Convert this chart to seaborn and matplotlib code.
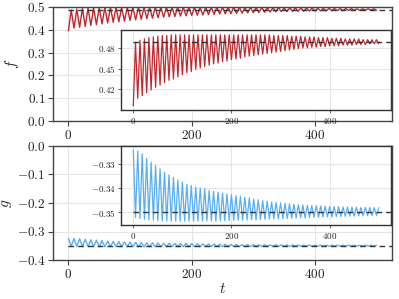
import numpy as np
import pandas as pd
import matplotlib
matplotlib.use("Agg")
import matplotlib.pyplot as plt
import seaborn as sns

# ---------------- data ----------------
t_end = 500
f_troughs = [0.396, 0.407, 0.411, 0.415, 0.419, 0.423, 0.426, 0.430, 0.433, 0.435,
             0.438, 0.441, 0.444, 0.446, 0.449, 0.451, 0.453, 0.455, 0.457, 0.458,
             0.460, 0.461, 0.463, 0.464, 0.465, 0.467, 0.468, 0.469, 0.470, 0.471,
             0.472, 0.473, 0.474, 0.475, 0.476, 0.477, 0.478, 0.479, 0.480, 0.480,
             0.481, 0.481, 0.482, 0.482, 0.483, 0.483, 0.483, 0.484, 0.484, 0.484,
             0.485, 0.485, 0.485, 0.486, 0.486, 0.486]
f_peaks = [0.487, 0.491, 0.493, 0.495, 0.496, 0.497, 0.498, 0.498, 0.499, 0.499,
           0.499, 0.499, 0.499, 0.499, 0.499, 0.499, 0.499, 0.499, 0.499, 0.499,
           0.499, 0.499, 0.499, 0.499, 0.499, 0.499, 0.499, 0.499, 0.499, 0.499,
           0.499, 0.498, 0.498, 0.498, 0.498, 0.497, 0.497, 0.497, 0.496, 0.496,
           0.496, 0.495, 0.495, 0.495, 0.494, 0.494, 0.494, 0.493, 0.493, 0.493,
           0.493, 0.492, 0.492, 0.492, 0.492]
g_peaks = [-0.3241, -0.3245, -0.3256, -0.3275, -0.3292, -0.3306, -0.3319, -0.3333,
           -0.3344, -0.3355, -0.3365, -0.3374, -0.3383, -0.3388, -0.3395, -0.3399,
           -0.3402, -0.3409, -0.3413, -0.3416, -0.3420, -0.3424, -0.3427, -0.3431,
           -0.3434, -0.3438, -0.3440, -0.3445, -0.3448, -0.3452, -0.3454, -0.3457,
           -0.3459, -0.3461, -0.3463, -0.3465, -0.3467, -0.3468, -0.3470, -0.3471,
           -0.3472, -0.3473, -0.3474, -0.3475, -0.3476, -0.3477, -0.3477, -0.3478,
           -0.3478, -0.3479, -0.3479, -0.3480, -0.3480, -0.3480, -0.3481, -0.3481]
g_troughs = [-0.3522, -0.3526, -0.3529, -0.3531, -0.3533, -0.3535, -0.3536, -0.3536,
             -0.3537, -0.3537, -0.3537, -0.3537, -0.3537, -0.3537, -0.3537, -0.3537,
             -0.3536, -0.3536, -0.3536, -0.3535, -0.3535, -0.3534, -0.3534, -0.3533,
             -0.3533, -0.3532, -0.3531, -0.3531, -0.3530, -0.3529, -0.3528, -0.3528,
             -0.3527, -0.3526, -0.3526, -0.3525, -0.3524, -0.3523, -0.3523, -0.3522,
             -0.3521, -0.3521, -0.3520, -0.3519, -0.3519, -0.3518, -0.3517, -0.3517,
             -0.3516, -0.3516, -0.3515, -0.3515, -0.3514, -0.3514, -0.3513]
f_star = 0.488
g_star = -0.350
main_xticks = [0, 200, 400]
f_main_yticks = [0.0, 0.1, 0.2, 0.3, 0.4, 0.5]
g_main_yticks = [0.0, -0.1, -0.2, -0.3, -0.4]
f_inset_yticks = [0.42, 0.45, 0.48]
g_inset_yticks = [-0.33, -0.34, -0.35]

# assemble series (alternating extrema)
n = len(f_troughs) + len(f_peaks)
t = np.linspace(0, t_end, n)
f = np.empty(n)
f[0::2] = f_troughs
f[1::2] = f_peaks
g = np.empty(n)
g[0::2] = g_peaks
g[1::2] = g_troughs
df = pd.DataFrame({"t": t, "f": f, "g": g})

# ---------------- style ----------------
sns.set_theme(style="whitegrid")
plt.rcParams.update({
    "font.family": "serif",
    "font.serif": ["cmr10"],
    "mathtext.fontset": "cm",
    "axes.formatter.use_mathtext": True,
    "axes.edgecolor": "#444444",
    "axes.linewidth": 1.0,
    "grid.color": "#e6e6e6",
    "grid.linewidth": 0.8,
    "xtick.bottom": True,
    "ytick.left": True,
    "xtick.color": "#444444",
    "ytick.color": "#444444",
    "xtick.labelcolor": "#222222",
    "ytick.labelcolor": "#222222",
})

RED = "#c1272d"
BLUE = "#5aaef0"
W, H = 399, 299
fig = plt.figure(figsize=(W / 100, H / 100), dpi=100)


def box(l, r, top, bot):
    return [l / W, 1 - bot / H, (r - l) / W, (bot - top) / H]


xlim = (-25, 525)

ax1 = fig.add_axes(box(53, 392, 7, 121))
ax2 = fig.add_axes(box(53, 392, 146, 260))
in1 = fig.add_axes(box(121, 391, 30, 110))
in2 = fig.add_axes(box(121, 391, 146, 225))

for ax, col, c, star, lw in [(ax1, "f", RED, f_star, 1.0), (in1, "f", RED, f_star, 0.9),
                             (ax2, "g", BLUE, g_star, 1.0), (in2, "g", BLUE, g_star, 0.9)]:
    sns.lineplot(data=df, x="t", y=col, ax=ax, color=c, lw=lw, estimator=None)
    ax.plot([0, xlim[1]], [star, star], ls=(0, (4, 3)), color="#333333", lw=1.0)
    ax.set_xlim(*xlim)
    ax.set_xticks(main_xticks)
    ax.set_xlabel("")
    ax.set_ylabel("")

ax1.set_ylim(0, 0.5)
ax1.set_yticks(f_main_yticks)
ax2.set_ylim(-0.4, 0.0)
ax2.set_yticks(g_main_yticks)
in1.set_ylim(0.390, 0.506)
in1.set_yticks(f_inset_yticks)
in2.set_ylim(-0.3553, -0.3224)
in2.set_yticks(g_inset_yticks)

for ax in (ax1, ax2):
    ax.tick_params(axis="both", labelsize=9.5, length=3.5, width=0.8, pad=2)
for ax in (in1, in2):
    ax.tick_params(axis="both", labelsize=6.5, length=2.5, width=0.6, pad=1.5)
    for s in ax.spines.values():
        s.set_color("#333333")

ax1.set_ylabel("$f$", fontsize=11)
ax2.set_ylabel("$g$", fontsize=11)
ax1.yaxis.set_label_coords(-0.095, 0.5)
ax2.yaxis.set_label_coords(-0.115, 0.5)
ax2.set_xlabel("$t$", fontsize=11, labelpad=1)

fig.savefig("out.png", dpi=100)
